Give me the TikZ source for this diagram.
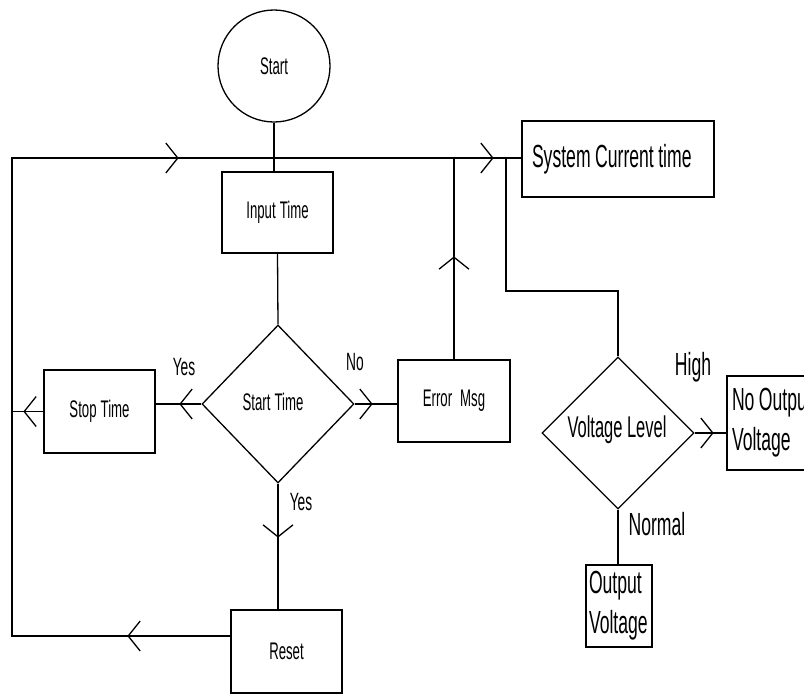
\documentclass[tikz,border=0pt]{standalone}
\usepackage{fontspec}
\setmainfont{Liberation Sans}
\newfontfamily\nf[FakeStretch=0.55]{Liberation Sans}
\newcommand{\nfsize}[2]{\nf\fontsize{#1}{#2}\selectfont\spaceskip=0.17em plus 0.05em\relax}
\newcommand{\wsp}{\hspace{4.5pt}}
\usetikzlibrary{shapes.geometric,arrows.meta,decorations.markings}
\tikzset{
  box/.style={draw, rectangle, inner sep=0pt, font=\nfsize{24}{28}},
  bigbox/.style={draw, rectangle, inner sep=0pt, font=\nfsize{32}{40}},
  dia/.style={draw, diamond, inner sep=0pt},
  lbl/.style={inner sep=0pt, font=\nfsize{25}{30}},
  biglbl/.style={inner sep=0pt, font=\nfsize{32}{38}},
  barb/.tip={Straight Barb[length=12pt,width=30pt]},
  marr/.style={postaction={decorate,decoration={markings,mark=at position #1 with {\arrow[line width=1.3pt]{barb}}}}}
}
\begin{document}
\begin{tikzpicture}[x=1pt,y=-1pt,line width=1.3pt]
\useasboundingbox (0,0) rectangle (804,694);
\clip (0,0) rectangle (804,694);

% nodes
\node[draw, circle, minimum size=112pt, inner sep=0pt, font=\nfsize{24}{28}] (start) at (274,66) {Start};
\node[box, minimum width=111pt, minimum height=81pt] (input) at (277.5,212.5) {Input Time};
\node[dia, minimum width=152pt, minimum height=158pt] (st) at (278,404) {};
\node[font=\nfsize{24}{28}, inner sep=0pt] (sttext) at (273,402) {Start Time};
\node[box, minimum width=111pt, minimum height=83pt] (stop) at (99.5,411.5) {Stop Time};
\node[box, minimum width=112pt, minimum height=82pt] (err) at (454,401) {Error\hspace{8pt}Msg};
\node[box, minimum width=111pt, minimum height=83pt] (reset) at (286.5,651.5) {Reset};
\node[bigbox, minimum width=192pt, minimum height=76pt, text width=180pt, align=left, inner sep=0pt] (sys) at (618,159) {\hspace*{4pt}System\wsp Current\wsp time};
\node[dia, minimum width=152pt, minimum height=152pt] (vl) at (618,433) {};
\node[font=\nfsize{30}{36}, inner sep=0pt] (vltext) at (617,430) {Voltage\wsp Level};
\node[bigbox, minimum width=110pt, minimum height=94pt, text width=100pt, align=left, inner sep=0pt] (noout) at (782,423) {No\wsp Output\\Voltage};
\node[bigbox, minimum width=66pt, minimum height=82pt, text width=60pt, align=left, inner sep=0pt] (outv) at (619,606) {Output\\Voltage};

% labels
\node[lbl] (lyes1) at (184,367) {Yes};
\node[lbl] (lno) at (355,362) {No};
\node[lbl] (lyes2) at (301,502) {Yes};
\node[biglbl] (lhigh) at (693,367) {High};
\node[biglbl] (lnormal) at (657,524) {Normal};

% coordinates
\coordinate (c1) at (12,636);
\coordinate (c2) at (12,158);
\coordinate (j1) at (506,158);
\coordinate (j2) at (506,291);

% main loop: reset -> left -> top -> system current time
\draw[postaction={decorate,decoration={markings,
    mark=at position 103pt with {\arrow[line width=1.3pt]{barb}},
    mark=at position 863pt with {\arrow[line width=1.3pt]{barb}},
    mark=at position 1178pt with {\arrow[line width=1.3pt]{barb}}}}]
  (reset.west |- c1) -- (c1) -- (c2) -- (c2 -| sys.west);

% start to input
\draw (start.south) -- (start.south |- input.north);
% input to start time
\draw (input.south) -- (st.north);
% start time -> stop time (Yes)
\draw[marr=22pt] (st.west) -- (st.west -| stop.east);
% stop time -> left line
\draw[marr=20pt] (stop.west) -- (stop.west -| c2);
% start time -> error (No)
\draw[marr=18pt] (st.east) -- (st.east -| err.west);
% error -> top line
\draw[marr=103pt] (err.north) -- (err.north |- c2);
% start time -> reset (Yes)
\draw[marr=54pt] (st.south) -- (st.south |- reset.north);
% branch to voltage level
\draw (j1) -- (j2) -- (j2 -| vl.north) -- (vl.north);
% voltage level -> no output (High)
\draw[marr=19pt] (vl.east) -- (vl.east -| noout.west);
% voltage level -> output voltage (Normal)
\draw (vl.south) -- (vl.south |- outv.north);
\end{tikzpicture}
\end{document}
